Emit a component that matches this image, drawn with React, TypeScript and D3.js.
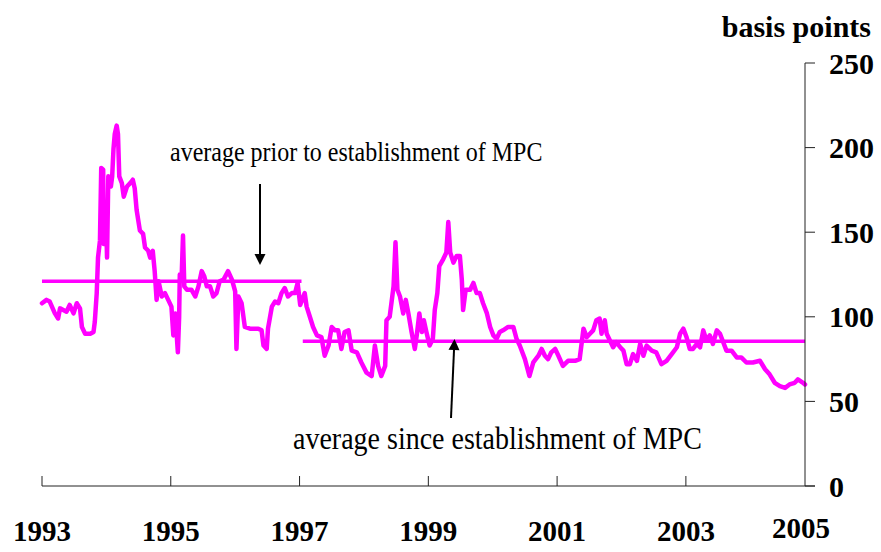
import React from "react";
import * as d3 from "d3";

// decimal year of each observation
const years: number[] = [
  1993.0, 1993.07, 1993.12, 1993.2, 1993.25, 1993.28, 1993.38, 1993.43, 1993.49, 1993.54,
  1993.59, 1993.62, 1993.67, 1993.75, 1993.8, 1993.82, 1993.85, 1993.87, 1993.9, 1993.92,
  1993.95, 1993.96, 1993.99, 1994.01, 1994.03, 1994.07, 1994.09, 1994.11, 1994.13, 1994.16,
  1994.18, 1994.2, 1994.24, 1994.27, 1994.32, 1994.37, 1994.41, 1994.44, 1994.47, 1994.52,
  1994.57, 1994.6, 1994.65, 1994.68, 1994.72, 1994.75, 1994.78, 1994.81, 1994.86, 1994.91,
  1994.96, 1995.01, 1995.04, 1995.07, 1995.11, 1995.13, 1995.14, 1995.17, 1995.19, 1995.21,
  1995.25, 1995.32, 1995.38, 1995.43, 1995.48, 1995.52, 1995.56, 1995.61, 1995.66, 1995.71,
  1995.76, 1995.82, 1995.89, 1995.95, 1996.0, 1996.02, 1996.05, 1996.1, 1996.15, 1996.23,
  1996.36, 1996.41, 1996.44, 1996.49, 1996.51, 1996.57, 1996.62, 1996.67, 1996.72, 1996.77,
  1996.82, 1996.88, 1996.93, 1996.97, 1997.01, 1997.08, 1997.11, 1997.16, 1997.21, 1997.27,
  1997.34, 1997.39, 1997.45, 1997.5, 1997.55, 1997.6, 1997.65, 1997.7, 1997.76, 1997.81,
  1997.89, 1997.96, 1998.04, 1998.12, 1998.17, 1998.22, 1998.27, 1998.33, 1998.35, 1998.4,
  1998.46, 1998.49, 1998.52, 1998.56, 1998.61, 1998.65, 1998.69, 1998.74, 1998.79, 1998.82,
  1998.86, 1998.9, 1998.93, 1998.97, 1999.02, 1999.07, 1999.1, 1999.14, 1999.17, 1999.23,
  1999.28, 1999.31, 1999.34, 1999.39, 1999.44, 1999.49, 1999.52, 1999.54, 1999.58, 1999.65,
  1999.7, 1999.75, 1999.8, 1999.85, 1999.91, 1999.96, 2000.01, 2000.06, 2000.11, 2000.16,
  2000.24, 2000.32, 2000.37, 2000.42, 2000.5, 2000.57, 2000.63, 2000.71, 2000.76, 2000.81,
  2000.86, 2000.91, 2000.97, 2001.02, 2001.09, 2001.17, 2001.28, 2001.35, 2001.41, 2001.46,
  2001.51, 2001.56, 2001.61, 2001.66, 2001.69, 2001.74, 2001.77, 2001.82, 2001.87, 2001.92,
  2001.98, 2002.03, 2002.08, 2002.13, 2002.18, 2002.24, 2002.29, 2002.34, 2002.39, 2002.47,
  2002.54, 2002.62, 2002.7, 2002.78, 2002.86, 2002.91, 2002.96, 2003.01, 2003.06, 2003.11,
  2003.17, 2003.22, 2003.27, 2003.32, 2003.37, 2003.42, 2003.48, 2003.53, 2003.58, 2003.63,
  2003.71, 2003.79, 2003.86, 2003.94, 2004.04, 2004.15, 2004.23, 2004.3, 2004.38, 2004.46,
  2004.54, 2004.61, 2004.69, 2004.74, 2004.82, 2004.85,
];

// spread, basis points
const spreads: number[] = [
  108, 110, 109, 102, 99, 105, 103, 107, 102, 108,
  105, 94, 90, 90, 91, 97, 114, 135, 145, 188,
  187, 143, 166, 135, 183, 177, 183, 199, 208, 213,
  208, 183, 179, 171, 177, 179, 181, 176, 163, 151,
  149, 141, 139, 135, 139, 127, 110, 121, 112, 114,
  110, 106, 89, 102, 79, 100, 125, 125, 148, 118,
  116, 116, 112, 118, 127, 124, 118, 118, 112, 114,
  121, 122, 127, 122, 115, 81, 112, 108, 94, 93,
  93, 92, 83, 81, 93, 106, 109, 108, 114, 117,
  112, 114, 114, 120, 107, 114, 106, 100, 94, 89,
  88, 77, 83, 94, 92, 92, 81, 91, 92, 80,
  79, 73, 67, 65, 83, 71, 65, 71, 98, 100,
  118, 144, 116, 112, 102, 110, 102, 91, 81, 89,
  102, 91, 98, 91, 83, 87, 104, 114, 130, 134,
  138, 156, 138, 132, 136, 136, 122, 104, 116, 116,
  120, 114, 114, 108, 102, 94, 89, 87, 91, 92,
  94, 94, 87, 83, 75, 65, 73, 77, 81, 77,
  75, 79, 81, 77, 71, 74, 74, 75, 93, 88,
  90, 92, 98, 99, 90, 98, 90, 86, 82, 85,
  82, 80, 72, 72, 78, 74, 84, 77, 83, 80,
  79, 72, 74, 78, 82, 90, 93, 88, 81, 81,
  84, 82, 92, 86, 89, 84, 92, 90, 85, 80,
  80, 76, 76, 73, 73, 74, 69, 66, 61, 59,
  58, 60, 61, 63, 61, 60,
];

// period averages
const avgStart: number[] = [1993.0, 1997.05];
const avgEnd: number[] = [1997.03, 2004.85];
const avgValue: number[] = [121, 85.5];

const xTickYears: number[] = [1993, 1995, 1997, 1999, 2001, 2003];
const xEndLabel = "2005";
const yTicks: number[] = [0, 50, 100, 150, 200, 250];

const labelPrior = "average prior to establishment of MPC";
const labelSince = "average since establishment of MPC";
const unitLabel = "basis points";

const MAGENTA = "#FF00FF";
const FONT = "'Liberation Serif', 'Times New Roman', serif";

export default function App() {
  const W = 881;
  const H = 552;
  const xEnd = 2004.85;
  const x = d3.scaleLinear().domain([1993, xEnd]).range([42, 805]);
  const y = d3.scaleLinear().domain([0, 250]).range([486, 63]);

  const pts = years.map((yr, i) => [yr, spreads[i]] as [number, number]);
  const line = d3
    .line<[number, number]>()
    .x((d) => x(d[0]))
    .y((d) => y(d[1]));

  const axisX = x(xEnd);
  const y0 = y(0);

  // arrows
  const arrow1 = { x1: 260, y1: 184, x2: 260, y2: 265 };
  const arrow2 = { x1: 451, y1: 418, x2: 454.5, y2: 339 };
  const head = (a: { x1: number; y1: number; x2: number; y2: number }) => {
    const ang = Math.atan2(a.y2 - a.y1, a.x2 - a.x1);
    const L = 11;
    const Wd = 5.5;
    const bx = a.x2 - L * Math.cos(ang);
    const by = a.y2 - L * Math.sin(ang);
    const px = -Math.sin(ang) * Wd;
    const py = Math.cos(ang) * Wd;
    return `${a.x2},${a.y2} ${bx + px},${by + py} ${bx - px},${by - py}`;
  };
  const shaftEnd = (a: { x1: number; y1: number; x2: number; y2: number }) => {
    const ang = Math.atan2(a.y2 - a.y1, a.x2 - a.x1);
    return { x: a.x2 - 9 * Math.cos(ang), y: a.y2 - 9 * Math.sin(ang) };
  };
  const s1 = shaftEnd(arrow1);
  const s2 = shaftEnd(arrow2);

  return (
    <svg
      width={W}
      height={H}
      style={{ position: "absolute", left: 0, top: 0, background: "#fff" }}
      fontFamily={FONT}
    >
      {/* average lines */}
      {avgValue.map((v, i) => (
        <line
          key={"avg" + i}
          x1={x(avgStart[i])}
          x2={x(avgEnd[i])}
          y1={y(v)}
          y2={y(v)}
          stroke={MAGENTA}
          strokeWidth={3.5}
        />
      ))}

      {/* series */}
      <path
        d={line(pts) || ""}
        fill="none"
        stroke={MAGENTA}
        strokeWidth={4.5}
        strokeLinejoin="round"
        strokeLinecap="round"
      />

      {/* x axis */}
      <line x1={x(1993)} x2={axisX + 10} y1={y0} y2={y0} stroke="#222" strokeWidth={1} />
      {xTickYears.map((t) => (
        <line key={"xt" + t} x1={x(t)} x2={x(t)} y1={y0} y2={y0 - 10} stroke="#222" strokeWidth={1} />
      ))}
      {xTickYears.map((t) => (
        <text
          key={"xl" + t}
          x={x(t)}
          y={541}
          textAnchor="middle"
          fontWeight="bold"
          fontSize={29}
          fill="#000"
        >
          {t}
        </text>
      ))}
      <text x={axisX - 4} y={538} textAnchor="middle" fontWeight="bold" fontSize={29} fill="#000">
        {xEndLabel}
      </text>

      {/* y axis */}
      <line x1={axisX} x2={axisX} y1={y(250)} y2={y0} stroke="#222" strokeWidth={1} />
      {yTicks.map((t) => (
        <line key={"yt" + t} x1={axisX} x2={axisX + 10} y1={y(t)} y2={y(t)} stroke="#222" strokeWidth={1} />
      ))}
      {yTicks.map((t) => (
        <text
          key={"yl" + t}
          x={829}
          y={y(t)}
          dy="0.35em"
          textAnchor="start"
          fontWeight="bold"
          fontSize={30}
          fill="#000"
        >
          {t}
        </text>
      ))}
      <text x={871} y={37} textAnchor="end" fontWeight="bold" fontSize={30} fill="#000">
        {unitLabel}
      </text>

      {/* annotations */}
      <text transform="translate(170,161) scale(1,1.17)" fontSize={24} fill="#000">
        {labelPrior}
      </text>
      <text transform="translate(293,449) scale(1,1.1)" fontSize={28} fill="#000">
        {labelSince}
      </text>
      <line x1={arrow1.x1} y1={arrow1.y1} x2={s1.x} y2={s1.y} stroke="#000" strokeWidth={2} />
      <polygon points={head(arrow1)} fill="#000" />
      <line x1={arrow2.x1} y1={arrow2.y1} x2={s2.x} y2={s2.y} stroke="#000" strokeWidth={2} />
      <polygon points={head(arrow2)} fill="#000" />
    </svg>
  );
}
